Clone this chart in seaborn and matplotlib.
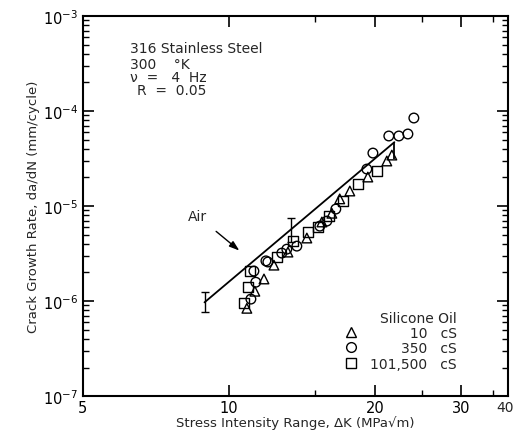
import numpy as np
import pandas as pd
import matplotlib
matplotlib.use("Agg")
import matplotlib.pyplot as plt
from matplotlib.lines import Line2D
from matplotlib.ticker import FixedLocator, NullFormatter, LogLocator, LogFormatterMathtext
import seaborn as sns

# Silicone oil data
dk_10cs = [10.88, 11.30, 11.80, 12.37, 13.22, 14.46, 15.53, 16.28, 16.90, 17.73, 19.31, 21.13, 21.64]
rate_10cs = [8.4e-7, 1.27e-6, 1.71e-6, 2.39e-6, 3.28e-6, 4.61e-6, 6.8e-6, 8.4e-6, 1.19e-5, 1.44e-5, 2.02e-5, 2.98e-5, 3.44e-5]

dk_350cs = [11.09, 11.35, 11.25, 11.91, 12.02, 12.84, 13.15, 13.79, 15.38, 15.90, 16.59, 19.22, 19.78, 21.33, 22.37, 23.35, 24.02]
rate_350cs = [1.05e-6, 1.58e-6, 2.07e-6, 2.65e-6, 2.58e-6, 3.2e-6, 3.52e-6, 3.79e-6, 6.15e-6, 6.95e-6, 9.3e-6, 2.45e-5, 3.61e-5, 5.46e-5, 5.46e-5, 5.73e-5, 8.44e-5]

dk_101500cs = [10.73, 10.93, 11.04, 12.54, 13.53, 14.53, 15.23, 16.05, 17.15, 18.42, 20.15]
rate_101500cs = [9.5e-7, 1.40e-6, 2.07e-6, 2.91e-6, 4.28e-6, 5.32e-6, 6.0e-6, 7.85e-6, 1.13e-5, 1.71e-5, 2.34e-5]

viscosities = ["10", "350", "101,500"]
markers = ["^", "o", "s"]

# Air reference line with scatter bars
air_dk = [8.9, 21.9]
air_rate = [0.97e-6, 4.7e-5]
bar_dk = [8.9, 13.4]
bar_rate = [0.97e-6, 5.6e-6]
bar_lo = [7.6e-7, 4.2e-6]
bar_hi = [1.25e-6, 7.4e-6]
end_lo = 3.1e-5

x_ticks = [5, 10, 20, 30, 40]
x_tick_labels = ["5", "10", "20", "30", "40"]

df = pd.concat([
    pd.DataFrame({"dk": dk_10cs, "rate": rate_10cs, "oil": "10"}),
    pd.DataFrame({"dk": dk_350cs, "rate": rate_350cs, "oil": "350"}),
    pd.DataFrame({"dk": dk_101500cs, "rate": rate_101500cs, "oil": "101,500"}),
])

sns.set_style("ticks")
plt.rcParams["font.family"] = ["DejaVu Sans"]

fig = plt.figure(figsize=(5.15, 4.35), dpi=100)
ax = fig.add_axes([0.161, 0.087, 0.825, 0.874])

sns.scatterplot(data=df, x="dk", y="rate", style="oil", markers=dict(zip(viscosities, markers)),
                s=48, facecolor="none", edgecolor="black", linewidth=1.0, legend=False, ax=ax)

sns.lineplot(x=air_dk, y=air_rate, color="black", linewidth=1.3, ax=ax)
yerr = [np.array(bar_rate) - np.array(bar_lo), np.array(bar_hi) - np.array(bar_rate)]
ax.errorbar(bar_dk, bar_rate, yerr=yerr, fmt="none", ecolor="black", elinewidth=1.0, capsize=3)
ax.vlines(air_dk[-1], end_lo, air_rate[-1], color="black", linewidth=1.3)

ax.annotate("Air", xy=(10.5, 3.4e-6), xytext=(8.6, 7.9e-6), ha="center", va="center", fontsize=10,
            arrowprops=dict(arrowstyle="-|>,head_length=0.6,head_width=0.2", color="black",
                            lw=1.0, shrinkA=6, shrinkB=0))

ax.set_xscale("log")
ax.set_yscale("log")
ax.set_xlim(5, 37.5)
ax.set_ylim(1e-7, 1e-3)

ax.xaxis.set_major_locator(FixedLocator(x_ticks))
ax.xaxis.set_minor_locator(FixedLocator([15, 25, 35]))
ax.set_xticklabels(x_tick_labels)
ax.xaxis.set_minor_formatter(NullFormatter())
ax.yaxis.set_major_locator(LogLocator(base=10, numticks=10))
ax.yaxis.set_major_formatter(LogFormatterMathtext())
ax.yaxis.set_minor_locator(LogLocator(base=10, subs=np.arange(2, 10), numticks=20))
ax.yaxis.set_minor_formatter(NullFormatter())

ax.tick_params(which="both", direction="in", top=True, right=True, colors="black", labelsize=10.5)
ax.tick_params(axis="x", pad=3)
ax.tick_params(which="major", length=8, width=1.2)
ax.tick_params(which="minor", length=4, width=1.0)
for sp in ax.spines.values():
    sp.set_linewidth(1.5)
    sp.set_color("black")

# the last tick label sits right at the edge in the original
ax.annotate(x_tick_labels[-1], xy=(1.0, 0.0), xycoords="axes fraction", xytext=(-2, -3),
            textcoords="offset points", ha="center", va="top", fontsize=10)

ax.set_xlabel("Stress Intensity Range, \u0394K (MPa\u221am)", fontsize=9.5, labelpad=0)
ax.set_ylabel("Crack Growth Rate, da/dN (mm/cycle)", fontsize=9.5, labelpad=2)

ax.text(0.111, 0.916, "316 Stainless Steel", transform=ax.transAxes, fontsize=10, va="center")
ax.text(0.111, 0.874, "300    \u00b0K", transform=ax.transAxes, fontsize=10, va="center")
ax.text(0.111, 0.839, "\u03bd  =   4  Hz", transform=ax.transAxes, fontsize=10, va="center")
ax.text(0.128, 0.806, "R  =  0.05", transform=ax.transAxes, fontsize=10, va="center")

def pad_label(v):
    ndig = sum(c.isdigit() for c in v)
    pad = "\u2007" * (6 - ndig) + ("" if "," in v else "\u2008")
    return pad + v + "   cS"

handles = [Line2D([], [], marker=m, linestyle="", markerfacecolor="none", markeredgecolor="black",
                  markersize=7) for m in markers]
leg = ax.legend(handles, [pad_label(v) for v in viscosities], title="Silicone Oil", frameon=False,
                loc="lower right", bbox_to_anchor=(0.9, 0.045), fontsize=10, title_fontsize=10,
                labelspacing=0.1, handletextpad=0.8, handlelength=1.2, alignment="right",
                borderpad=0.1)

plt.savefig("out.png", dpi=100)
